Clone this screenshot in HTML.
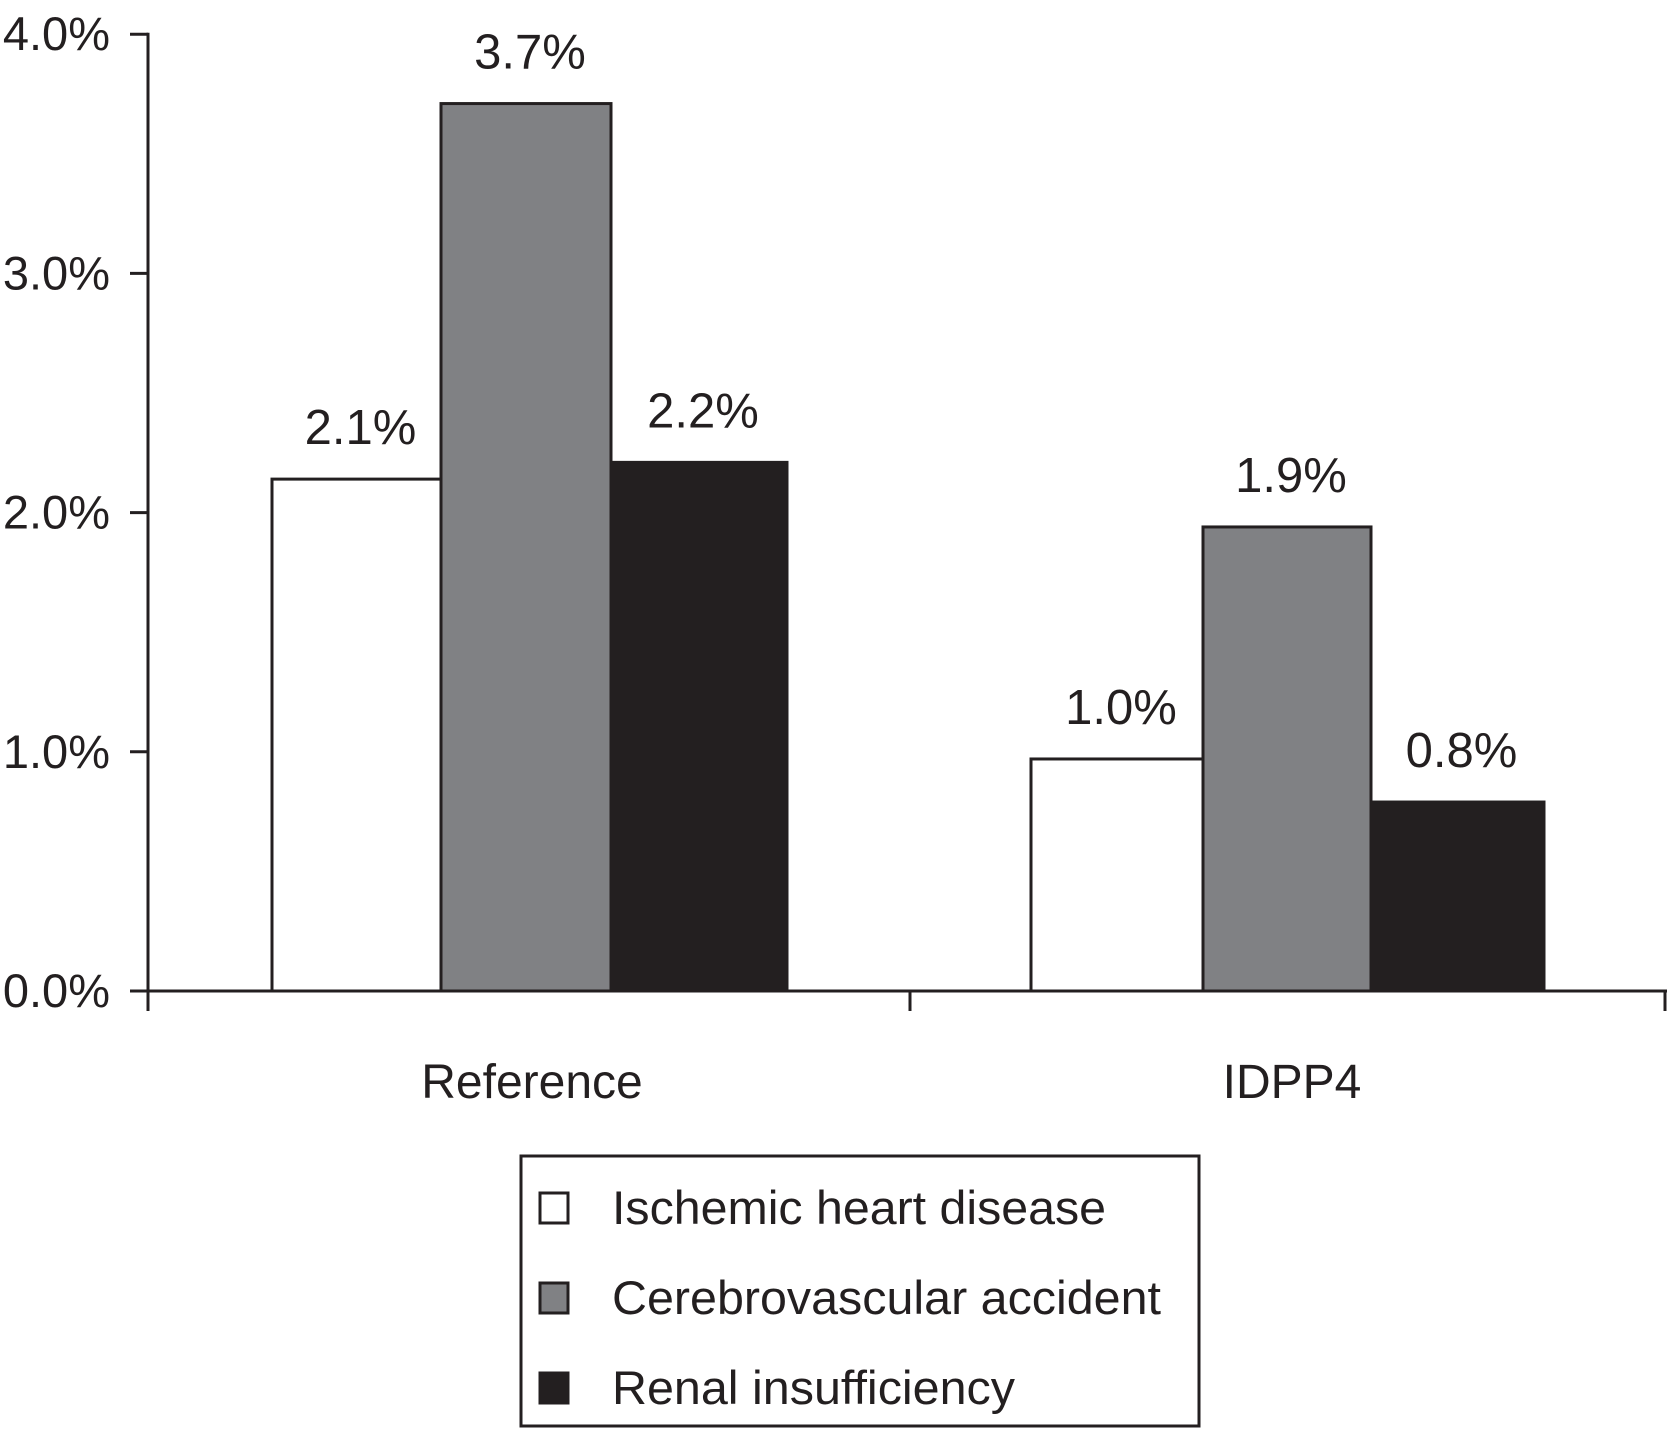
<!DOCTYPE html>
<html><head><meta charset="utf-8"><style>
html,body{margin:0;padding:0;background:#fff;}
svg{display:block;font-family:"Liberation Sans",Arial,sans-serif;}
</style></head><body>
<svg id="chart" width="1667" height="1429" viewBox="0 0 1667 1429" xmlns="http://www.w3.org/2000/svg">
<g id="axes"></g>
<g id="bars"></g>
<g id="labels"></g>
<g id="legend"></g>
</svg>
<script>
const categories = ["Reference", "IDPP4"];
const seriesNames = ["Ischemic heart disease", "Cerebrovascular accident", "Renal insufficiency"];
const ischemic = [2.14, 0.97];
const cerebro = [3.71, 1.94];
const renal = [2.21, 0.79];
const valueLabels = [["2.1%", "1.0%"], ["3.7%", "1.9%"], ["2.2%", "0.8%"]];
const yTicks = [0, 1, 2, 3, 4];
const yTickLabels = ["0.0%", "1.0%", "2.0%", "3.0%", "4.0%"];

const NS = "http://www.w3.org/2000/svg";
const colors = ["#ffffff", "#808184", "#231f20"];
const dark = "#231f20";
const axisX = 148, y0 = 991, pxPerUnit = 239.2;
const y = v => y0 - v * pxPerUnit;
const groupLeft = [272, 1031];
const groupBarW = [[169,170,176],[172,168,173]];
function el(tag, attrs, parent) {
  const e = document.createElementNS(NS, tag);
  for (const k in attrs) e.setAttribute(k, attrs[k]);
  parent.appendChild(e);
  return e;
}
const axes = document.getElementById("axes");
const bars = document.getElementById("bars");
const labels = document.getElementById("labels");
const legend = document.getElementById("legend");

const series = [ischemic, cerebro, renal];
categories.forEach((c, gi) => {
  let x = groupLeft[gi];
  series.forEach((s, si) => {
    const w = groupBarW[gi][si];
    const r = el("rect", {x: x, y: y(s[gi]), width: w, height: y0 - y(s[gi]), fill: colors[si], stroke: dark, "stroke-width": 3}, bars);
    
    
    const t = el("text", {x: x + w / 2 + 4, y: y(s[gi]) - 35, "text-anchor": "middle", "font-size": 49, fill: dark}, labels);
    t.textContent = valueLabels[si][gi];
    
    
    x += w;
  });
  const cx = gi === 0 ? 532 : 1292;
  const ct = el("text", {x: cx, y: 1098, "text-anchor": "middle", "font-size": 48, fill: dark}, axes);
  ct.textContent = c;
  
  
});

el("line", {x1: axisX, y1: y(4) - 1.5, x2: axisX, y2: 1011, stroke: dark, "stroke-width": 3}, axes);
el("line", {x1: 130, y1: y0, x2: 1667, y2: y0, stroke: dark, "stroke-width": 3}, axes);
[910, 1665].forEach(xx => el("line", {x1: xx, y1: y0, x2: xx, y2: 1011, stroke: dark, "stroke-width": 3}, axes));
yTicks.forEach((v, i) => {
  el("line", {x1: 130, y1: y(v), x2: axisX, y2: y(v), stroke: dark, "stroke-width": 3}, axes);
  const t = el("text", {x: 110, y: y(v) + 16, "text-anchor": "end", "font-size": 47, fill: dark}, axes);
  t.textContent = yTickLabels[i];
  
  
});

el("rect", {x: 521, y: 1156, width: 678, height: 270, fill: "#fff", stroke: dark, "stroke-width": 3}, legend);
const lw = [494, 549, 403];
const ly = [1208, 1298, 1388];
seriesNames.forEach((n, i) => {
  const sw = el("rect", {x: 540, y: ly[i] - 15, width: 28, height: 30, fill: colors[i], stroke: dark, "stroke-width": 3}, legend);
  
  
  const t = el("text", {x: 612, y: ly[i] + 16, "font-size": 47, fill: dark, textLength: lw[i], lengthAdjust: "spacingAndGlyphs"}, legend);
  t.textContent = n;
  
  
});
</script>
</body></html>
